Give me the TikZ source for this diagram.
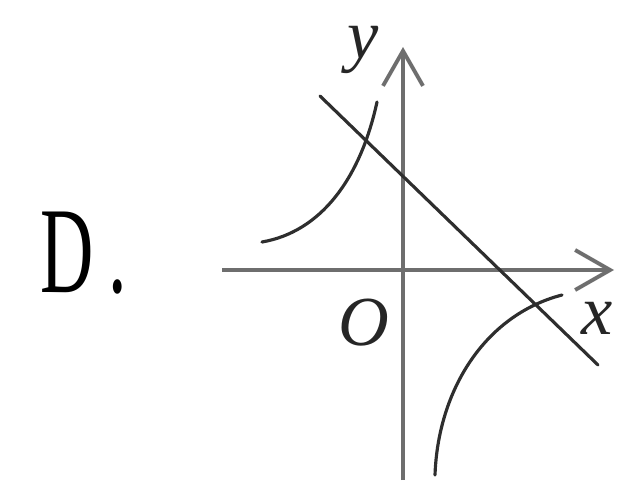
\documentclass[tikz,border=0pt]{standalone}
\usepackage{fontspec}
\setmainfont{Liberation Serif}
\usepackage{tikz}
\usetikzlibrary{positioning,arrows.meta}
\definecolor{axisgray}{HTML}{6E6E6E}
\definecolor{curvedark}{HTML}{2E2E2E}
\tikzset{
    axis/.style={draw=axisgray, line width=2.6pt, -{Straight Barb[length=0.7cm, width=0.8cm, line width=2.2pt]}},
    curve/.style={draw=curvedark, line width=1.8pt, line cap=round},
    lbl/.style={inner sep=0pt, font=\fontsize{40}{40}\selectfont\itshape, text=black!85}
}

\begin{document}
\begin{tikzpicture}[x=0.02cm, y=-0.02cm]
\useasboundingbox (0,0) rectangle (618,489);

% Option letter
\node[inner sep=0pt, font=\fontsize{70}{70}\selectfont, xscale=0.6, anchor=base west] (opt) at (40,293) {D\kern0.2em.};

% Axes
\coordinate (o) at (403,270);
\coordinate (xl) at (222,270);
\coordinate (xr) at (614,270);
\coordinate (yb) at (403,480);
\coordinate (yt) at (403,47);
\draw[axis] (xl) -- (xr);
\draw[axis] (yb) -- (yt);

% Labels
\node[lbl] (ylab) at (363,50) {y};
\node[lbl] (xlab) at (597,318) {x};
\node[lbl] (olab) at (364,323) {O};

% Straight line
\coordinate (la) at (320,96);
\coordinate (lb) at (598,365);
\draw[curve] (la) -- (lb);

% Hyperbola branches
\coordinate (ua) at (262,242);
\coordinate (ub) at (377,102);
\coordinate (da) at (435,475);
\coordinate (db) at (562,295);
\draw[curve] (ua) .. controls (320,232) and (360,180) .. (ub);
\draw[curve] (da) .. controls (438,390) and (485,315) .. (db);

\end{tikzpicture}
\end{document}
